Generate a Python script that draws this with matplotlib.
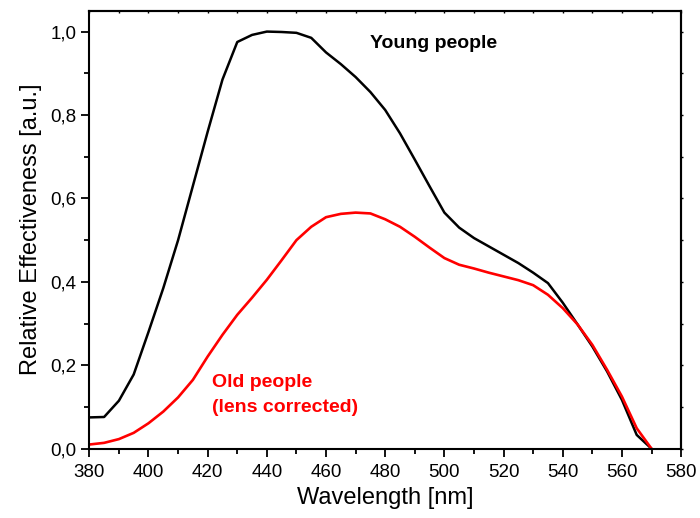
import matplotlib
matplotlib.use("Agg")
import matplotlib.pyplot as plt
from matplotlib.ticker import MultipleLocator, FuncFormatter

plt.rcParams['font.family'] = ['Liberation Sans', 'DejaVu Sans']

# wavelength grid [nm]
wavelength = list(range(380, 575, 5))

young = [0.075, 0.076, 0.115, 0.178, 0.28, 0.385, 0.50, 0.63, 0.76, 0.885,
         0.975, 0.992, 1.0, 0.999, 0.997, 0.985, 0.95, 0.922, 0.891, 0.855,
         0.812, 0.756, 0.693, 0.629, 0.566, 0.53, 0.505, 0.485, 0.465, 0.445,
         0.422, 0.397, 0.35, 0.298, 0.245, 0.185, 0.117, 0.033, 0.0]

old = [0.010, 0.014, 0.023, 0.038, 0.061, 0.089, 0.123, 0.165, 0.221, 0.273,
       0.321, 0.362, 0.405, 0.452, 0.50, 0.532, 0.555, 0.563, 0.566, 0.564,
       0.55, 0.532, 0.508, 0.482, 0.457, 0.441, 0.432, 0.422, 0.413, 0.404,
       0.392, 0.369, 0.337, 0.298, 0.249, 0.189, 0.125, 0.049, 0.0]

fig = plt.figure(figsize=(7.0, 5.18), dpi=100)
ax = fig.add_axes([0.1276, 0.1338, 0.8454, 0.8455])

ax.plot(wavelength, young, color='black', lw=1.8)
ax.plot(wavelength, old, color='#ff0000', lw=1.9)

ax.set_xlim(380, 580)
ax.set_ylim(0, 1.05)

ax.xaxis.set_major_locator(MultipleLocator(20))
ax.xaxis.set_minor_locator(MultipleLocator(10))
ax.yaxis.set_major_locator(MultipleLocator(0.2))
ax.yaxis.set_minor_locator(MultipleLocator(0.1))
ax.yaxis.set_major_formatter(FuncFormatter(lambda v, p: f"{v:.1f}".replace('.', ',')))

ax.tick_params(which='major', direction='out', length=6, width=1.3, labelsize=13.5)
ax.tick_params(axis='x', which='major', pad=5)
ax.tick_params(which='minor', direction='out', length=3.5, width=1.3)
for s in ax.spines.values():
    s.set_linewidth(1.5)

# tiny mirrored ticks on top and right
top = ax.secondary_xaxis('top')
top.xaxis.set_major_locator(MultipleLocator(10))
top.tick_params(direction='in', length=1.5, width=1.0, labeltop=False)
right = ax.secondary_yaxis('right')
right.yaxis.set_major_locator(MultipleLocator(0.1))
right.tick_params(direction='out', length=1.5, width=1.0, labelright=False)
top.spines['top'].set_linewidth(1.5)
right.spines['right'].set_linewidth(1.5)

ax.set_xlabel('Wavelength [nm]', fontsize=17, labelpad=4)
ax.set_ylabel('Relative Effectiveness [a.u.]', fontsize=17, labelpad=6)

ax.text(474.8, 0.961, 'Young people', fontsize=14, fontweight='bold',
        color='black', va='baseline', ha='left')
ax.text(421.5, 0.149, 'Old people', fontsize=14, fontweight='bold',
        color='#ff0000', va='baseline', ha='left')
ax.text(421.5, 0.089, '(lens corrected)', fontsize=14, fontweight='bold',
        color='#ff0000', va='baseline', ha='left')

fig.savefig('out.png', dpi=100)
